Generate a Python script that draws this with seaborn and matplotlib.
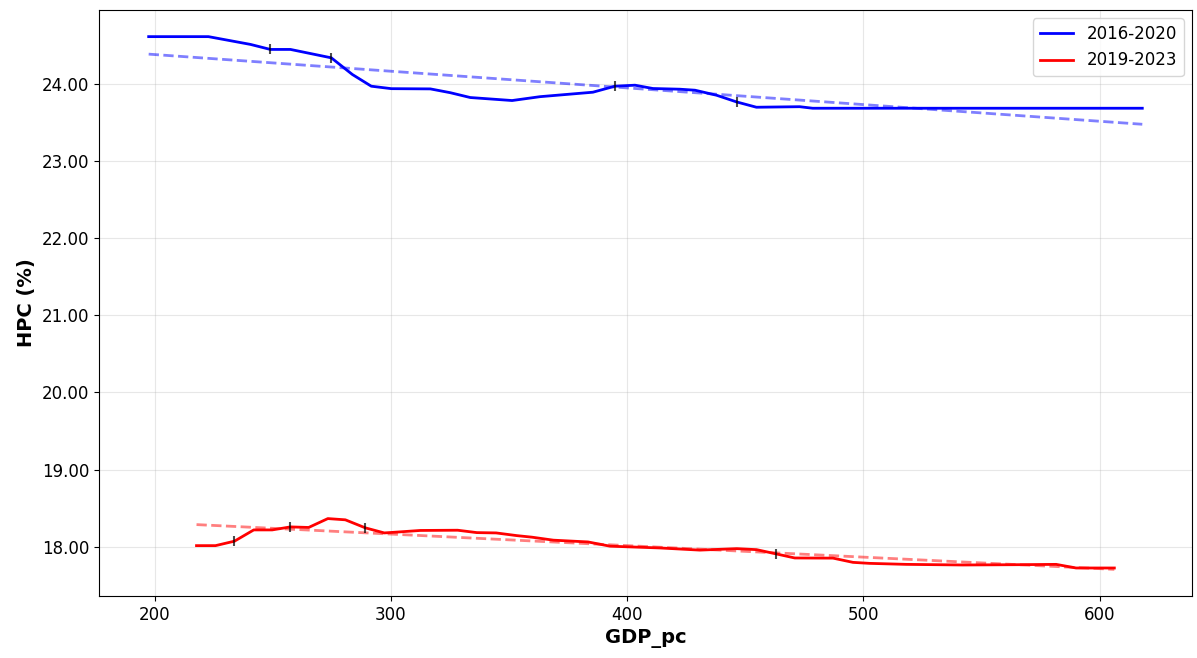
import numpy as np
import pandas as pd
import matplotlib
matplotlib.use("Agg")
import matplotlib.pyplot as plt
import seaborn as sns
from matplotlib.ticker import FormatStrFormatter

# 2016-2020 window
gdp_a = [197.5, 222.8, 240.6, 249.0, 257.5, 274.8, 283.7, 291.7, 300.2, 316.7,
         325.1, 333.6, 351.3, 363.1, 385.5, 394.8, 403.3, 410.9, 422.3, 428.7,
         437.8, 446.3, 454.7, 473.0, 478.5, 618.0]
hpc_a = [24.617, 24.617, 24.516, 24.451, 24.451, 24.342, 24.126, 23.974, 23.942, 23.939,
         23.890, 23.827, 23.788, 23.838, 23.896, 23.974, 23.987, 23.944, 23.935, 23.922,
         23.857, 23.770, 23.701, 23.708, 23.688, 23.688]

# 2019-2023 window
gdp_b = [217.75, 225.78, 233.81, 241.97, 249.75, 257.48, 265.22, 273.33, 280.73, 289.18,
         297.21, 303.13, 312.43, 328.27, 336.39, 344.55, 353.30, 359.64, 368.77, 383.43,
         392.73, 413.86, 430.77, 446.41, 454.73, 463.19, 470.92, 487.11, 495.56, 502.62,
         518.13, 542.05, 566.02, 581.53, 589.98, 606.17]
hpc_b = [18.013, 18.013, 18.071, 18.217, 18.217, 18.256, 18.249, 18.364, 18.348, 18.244,
         18.178, 18.190, 18.210, 18.213, 18.182, 18.178, 18.143, 18.123, 18.084, 18.061,
         18.006, 17.983, 17.955, 17.974, 17.961, 17.905, 17.853, 17.851, 17.796, 17.783,
         17.770, 17.762, 17.766, 17.770, 17.723, 17.723]

# linear trend end points per window
trend_x_a = [197.5, 618.0]
trend_y_a = [24.39, 23.48]
trend_x_b = [217.75, 606.17]
trend_y_b = [18.286, 17.705]

# highlighted observations
mark_x_a = [249.0, 274.8, 394.8, 446.3]
mark_y_a = [24.451, 24.342, 23.974, 23.770]
mark_x_b = [233.81, 257.48, 289.18, 463.19]
mark_y_b = [18.071, 18.256, 18.244, 17.905]

labels = ["2016-2020", "2019-2023"]
colors = ["blue", "red"]

plt.rcParams["font.family"] = ["DejaVu Sans"]

fig = plt.figure(figsize=(11.97, 6.58), dpi=100)
ax = fig.add_axes([0.0827, 0.0942, 0.9131, 0.8906])

df_a = pd.DataFrame({"GDP_pc": gdp_a, "HPC": hpc_a})
df_b = pd.DataFrame({"GDP_pc": gdp_b, "HPC": hpc_b})

sns.lineplot(data=df_a, x="GDP_pc", y="HPC", color=colors[0], linewidth=2,
             label=labels[0], estimator=None, ax=ax)
sns.lineplot(data=df_b, x="GDP_pc", y="HPC", color=colors[1], linewidth=2,
             label=labels[1], estimator=None, ax=ax)

ax.plot(trend_x_a, trend_y_a, linestyle="--", color=colors[0], alpha=0.5, linewidth=2)
ax.plot(trend_x_b, trend_y_b, linestyle="--", color=colors[1], alpha=0.5, linewidth=2)

ax.plot(mark_x_a, mark_y_a, linestyle="none", marker="|", markersize=7,
        markeredgewidth=1.5, color="black", alpha=0.7)
ax.plot(mark_x_b, mark_y_b, linestyle="none", marker="|", markersize=7,
        markeredgewidth=1.5, color="black", alpha=0.7)

ax.yaxis.set_major_formatter(FormatStrFormatter("%.2f"))
ax.grid(True, alpha=0.3)
ax.set_xlabel("GDP_pc", fontsize=14, fontweight="bold")
ax.set_ylabel("HPC (%)", fontsize=14, fontweight="bold")
ax.tick_params(labelsize=12)

ax.legend(loc="upper right", fontsize=12)

fig.savefig("out.png", dpi=100)
